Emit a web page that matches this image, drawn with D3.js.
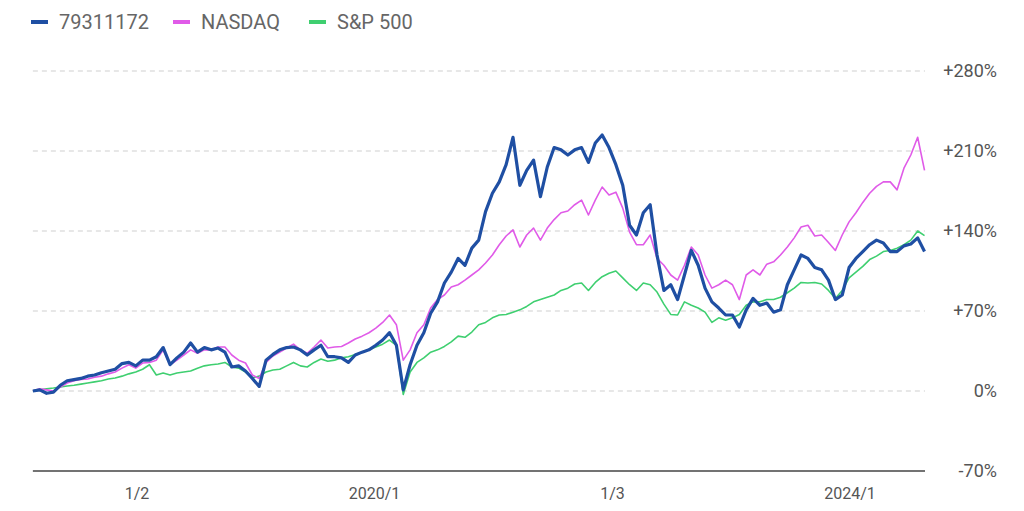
<!DOCTYPE html>
<html>
<head>
<meta charset="utf-8">
<script src="https://cdn.jsdelivr.net/npm/d3@7"></script>
<style>
  html, body { margin: 0; padding: 0; background: #fff; }
  svg { display: block; font-family: Roboto, "Liberation Sans", Arial, sans-serif; }
</style>
</head>
<body>
<svg id="chart" width="1024" height="511"></svg>
<script>
// ---- data ----
const seriesNames = ["79311172", "NASDAQ", "S&P 500"];
const seriesColors = ["#1f4fa3", "#e05be8", "#3fcf70"];
const startDate = "2017-02-15";
const endDate = "2024-08-17";
const xTickDates = ["2018-01-01", "2020-01-01", "2022-01-01", "2024-01-01"];
const xTickLabels = ["1/2", "2020/1", "1/3", "2024/1"];
const yTicks = [-70, 0, 70, 140, 210, 280];

// cumulative return (%) sampled roughly every three weeks
const fund = [0,1,-2,-1,5,9,10,11,13,14,16,17.5,19,24,25,22,27,27,30,38,23,29,34,42,34,38,36,37.6,34,21,
  22,17.5,11,4,27,32,36,38,38.5,36,31.5,36,40,30,30,29,25,31.5,34,36,40,44.6,51,40,1,23,40,51,68,78,
  94.5,104,116,110,125,132,157,173,183,198,222,180,193,202,170,196,213,211,206.5,211,213,200,217,224,213,198,180,145,136.5,156,
  163,119,88,93,80,101.5,123,110,90,78,72.6,66.5,66.5,56,71,81,75,77,69,71,93,106,119,116,108,106,97,80,84,108,
  116,122,128,132,129.5,122,122,127,128.6,134,122];
const nasdaq = [0,2,1,0,3.5,7,9,10,10.5,12,13,15,16.6,20,23,20,24.5,25,27,36,23,27,31.5,36,33,36,36,38.5,38.5,31.5,
  27,24.5,14,11,25,30.6,34,37.6,41,36,33,38.5,44.6,37.6,38.5,39,42,45.5,48,51,55,60,66.5,58,27,36,51,58,72.6,80,
  84,91,93,97,101.5,106,112,119,128,135.6,141,126,136.5,142.6,132,142.6,150,156,157.5,163,167,154,167,178.5,171.5,174,160,139,128,128,
  136.5,116,110,101.5,97,110,126,119,101.5,90,93,97,93,80,101.5,106,101.5,111,113,119,126,134,143.5,145,135.6,136.5,130,123,136.5,148,
  156,165,173,179,183,183,176,195,206.5,222,193];
const sp500 = [0,1,2,2.6,3.5,4.4,5,6,7,8,9,10.5,11.4,13,15,16.6,19,23,14,15.7,14,15.7,16.6,17.5,20,22,23,23.6,25,21,
  20,16.6,11.4,13,16.6,18.4,19,22,25,22,21,25,28,26,27,29,30,32,34,36,38.5,41,44.6,40,-3,16.6,25,29,34,36,
  39,43,48,47,51.6,58,60,64,66.5,67,69,71,74,78,80,82,84,88,90,93.6,94.5,88,95,100,103,105,99,93,88,94.5,
  93,86.6,76,67,66.5,78,75,72.6,69,60,64,62,64,67,75,78,78,80,80,82,86,90,95,94.5,95,93.6,88,81,88,99,
  104,109,115,118,122,123,125,128,132,140,136];

// ---- layout ----
const svg = d3.select("#chart");
const parse = d3.utcParse("%Y-%m-%d");
const x = d3.scaleUtc().domain([parse(xTickDates[0]), parse(xTickDates[3])]).range([137, 850]);
const y = d3.scaleLinear().domain([0, 280]).range([391, 71]);
const plotLeft = x(parse(startDate));
const plotRight = 925;

const t0 = parse(startDate).getTime(), t1 = parse(endDate).getTime();
const n = fund.length;
const dates = d3.range(n).map(i => new Date(t0 + i * (t1 - t0) / (n - 1)));

// grid
const gridTicks = yTicks.filter(v => v > -70);
svg.append("g").selectAll("line").data(gridTicks).join("line")
  .attr("x1", plotLeft).attr("x2", plotRight)
  .attr("y1", d => y(d)).attr("y2", d => y(d))
  .attr("stroke", "#cfcfcf").attr("stroke-width", 1)
  .attr("stroke-dasharray", "5,4");

// bottom axis line
svg.append("line")
  .attr("x1", plotLeft).attr("x2", plotRight)
  .attr("y1", y(-70)).attr("y2", y(-70))
  .attr("stroke", "#444").attr("stroke-width", 1.5);

// y labels (right)
svg.append("g").selectAll("text").data(yTicks).join("text")
  .attr("x", 997).attr("y", d => y(d))
  .attr("dy", "0.35em").attr("text-anchor", "end")
  .attr("font-size", 18).attr("fill", "#555")
  .text(d => (d > 0 ? "+" : "") + d + "%");

// x labels
svg.append("g").selectAll("text").data(xTickDates).join("text")
  .attr("x", d => x(parse(d))).attr("y", 499)
  .attr("text-anchor", "middle")
  .attr("font-size", 16).attr("fill", "#555")
  .text((d, i) => xTickLabels[i]);

// lines
const line = d3.line().x((d, i) => x(dates[i])).y(d => y(d)).curve(d3.curveLinear);
const allSeries = [fund, nasdaq, sp500];
const widths = [3.2, 1.6, 1.6];
[2, 1, 0].forEach(k => {
  svg.append("path").datum(allSeries[k])
    .attr("d", line)
    .attr("fill", "none")
    .attr("stroke", seriesColors[k])
    .attr("stroke-width", widths[k])
    .attr("stroke-linejoin", "round");
});

// legend
const legendX = [31, 173, 309];
const lg = svg.append("g");
seriesNames.forEach((name, i) => {
  lg.append("line")
    .attr("x1", legendX[i]).attr("x2", legendX[i] + 17)
    .attr("y1", 22).attr("y2", 22)
    .attr("stroke", seriesColors[i]).attr("stroke-width", 4);
  lg.append("text")
    .attr("x", legendX[i] + 28).attr("y", 22).attr("dy", "0.35em")
    .attr("font-size", 20).attr("fill", "#666")
    .text(name);
});
</script>
</body>
</html>
